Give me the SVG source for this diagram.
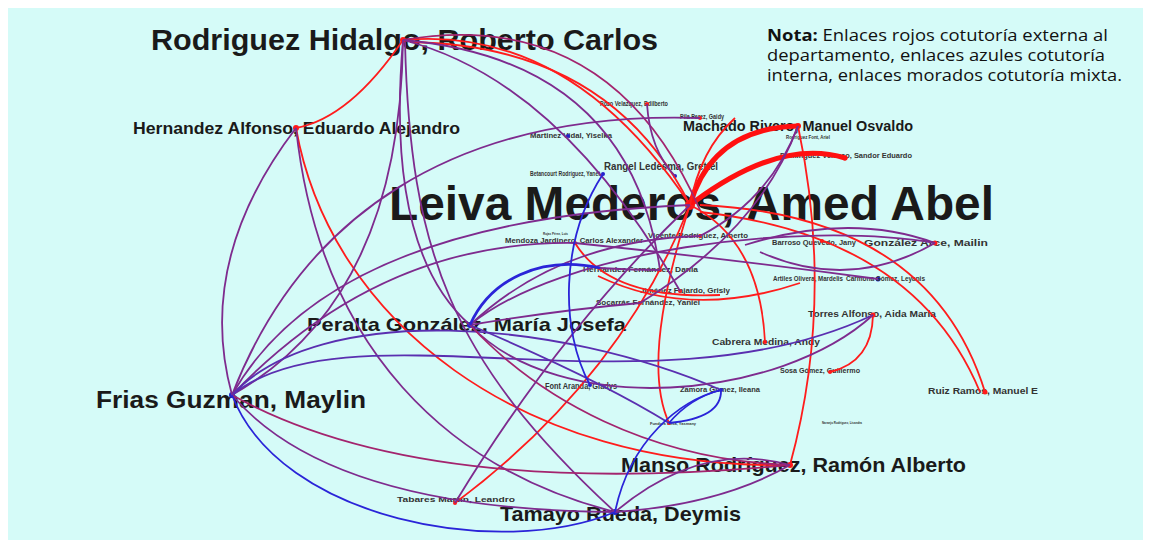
<svg xmlns="http://www.w3.org/2000/svg" width="1151" height="546" viewBox="0 0 1151 546">
<style>
.r{fill:none;stroke:#ff1c1c;stroke-width:1.8}
.rt{fill:none;stroke:#ff1010;stroke-width:5;stroke-linecap:round}
.p{fill:none;stroke:#7e2b8e;stroke-width:1.8}
.pr{fill:none;stroke:#a3246e;stroke-width:1.8}
.pb{fill:none;stroke:#5a2fb0;stroke-width:1.8}
.b{fill:none;stroke:#2a24d8;stroke-width:1.8}
.bt{fill:none;stroke:#2a24d8;stroke-width:2.8}
.lg{font-family:"Liberation Sans",Arial,sans-serif;font-weight:bold;fill:#1a1a1a}
.sm{font-family:"Liberation Sans",Arial,sans-serif;font-weight:bold;fill:#333}
.dr{fill:#ff1a1a}
.db{fill:#2222cc}
.note{font-family:"Open Sans","Noto Sans",sans-serif;font-size:16px;fill:#111}
</style>
<rect x="0" y="0" width="1151" height="546" fill="#ffffff"/>
<rect x="8" y="8" width="1135" height="532" fill="#d5fbf8"/>

<g id="nodes">
<g id="n-rh"><text class="lg" x="151" y="50" font-size="29" textLength="507" lengthAdjust="spacingAndGlyphs">Rodriguez Hidalgo, Roberto Carlos</text><circle class="dr" cx="403" cy="40" r="3"/></g>
<g id="n-lm"><text class="lg" x="389" y="220" font-size="48" fill="#000" textLength="605" lengthAdjust="spacingAndGlyphs">Leiva Mederos, Amed Abel</text><circle class="dr" cx="690" cy="205" r="5"/></g>
<g id="n-ha"><text class="lg" x="133" y="134" font-size="16" textLength="327" lengthAdjust="spacingAndGlyphs">Hernandez Alfonso, Eduardo Alejandro</text><circle class="dr" cx="296" cy="128" r="3"/></g>
<g id="n-mr"><text class="lg" x="683" y="131" font-size="14" textLength="230" lengthAdjust="spacingAndGlyphs">Machado Rivero, Manuel Osvaldo</text><circle class="dr" cx="798" cy="126" r="3"/></g>
<g id="n-pg"><text class="lg" x="307" y="331" font-size="19" textLength="319" lengthAdjust="spacingAndGlyphs">Peralta González, María Josefa</text><circle class="db" cx="470" cy="325" r="3"/></g>
<g id="n-fg"><text class="lg" x="96" y="408" font-size="23" textLength="270" lengthAdjust="spacingAndGlyphs">Frias Guzman, Maylin</text><circle class="db" cx="232" cy="395" r="3"/></g>
<g id="n-mrd"><text class="lg" x="621" y="472" font-size="20" textLength="345" lengthAdjust="spacingAndGlyphs">Manso Rodríguez, Ramón Alberto</text><circle class="dr" cx="790" cy="465" r="3"/></g>
<g id="n-tr"><text class="lg" x="500" y="521" font-size="21" textLength="241" lengthAdjust="spacingAndGlyphs">Tamayo Rueda, Deymis</text><circle class="db" cx="615" cy="512" r="3"/></g>
<g id="n-pv"><text class="sm" x="600" y="106" font-size="7" textLength="68" lengthAdjust="spacingAndGlyphs">Pozo Velazquez, Edilberto</text><circle class="dr" cx="647" cy="104" r="2"/></g>
<g id="n-pp"><text class="sm" x="680" y="119" font-size="7" textLength="44" lengthAdjust="spacingAndGlyphs">Pila Perez, Gaidy</text><circle class="dr" cx="700" cy="118" r="2"/></g>
<g id="n-mv"><text class="sm" x="530" y="138" font-size="7" textLength="82" lengthAdjust="spacingAndGlyphs">Martinez Vidal, Yiselka</text><circle class="db" cx="568" cy="136" r="2"/></g>
<g id="n-br"><text class="sm" x="530" y="176" font-size="7" textLength="70" lengthAdjust="spacingAndGlyphs">Betancourt Rodríguez, Yanet</text><circle class="db" cx="603" cy="174" r="2"/></g>
<g id="n-rl"><text class="sm" x="604" y="170" font-size="10" textLength="114" lengthAdjust="spacingAndGlyphs">Rangel Ledesma, Grettel</text><circle class="db" cx="675" cy="176" r="2"/></g>
<g id="n-rf"><text class="sm" x="786" y="139" font-size="5" textLength="44" lengthAdjust="spacingAndGlyphs">Rodriguez Font, Ariel</text></g>
<g id="n-dv"><text class="sm" x="780" y="158" font-size="7" textLength="132" lengthAdjust="spacingAndGlyphs">Dominguez Velazco, Sandor Eduardo</text><circle class="dr" cx="845" cy="158" r="2.5"/></g>
<g id="n-mj"><text class="sm" x="505" y="243" font-size="7" textLength="138" lengthAdjust="spacingAndGlyphs">Mendoza Jardinero, Carlos Alexander</text><circle class="dr" cx="575" cy="243" r="2"/></g>
<g id="n-rp"><text class="sm" x="543" y="235" font-size="4" textLength="25" lengthAdjust="spacingAndGlyphs">Rojas Pérez, Luis</text></g>
<g id="n-vr"><text class="sm" x="648" y="238" font-size="7" textLength="100" lengthAdjust="spacingAndGlyphs">Vicente Rodríguez, Alberto</text><circle class="dr" cx="700" cy="236" r="2"/></g>
<g id="n-bq"><text class="sm" x="772" y="245" font-size="7" textLength="84" lengthAdjust="spacingAndGlyphs">Barroso Quevedo, Jany</text><circle class="dr" cx="822" cy="241" r="2"/></g>
<g id="n-ga"><text class="sm" x="864" y="246" font-size="9" textLength="124" lengthAdjust="spacingAndGlyphs">González Arce, Mailin</text><circle class="dr" cx="935" cy="243" r="2.5"/></g>
<g id="n-hd"><text class="sm" x="583" y="272" font-size="7" textLength="115" lengthAdjust="spacingAndGlyphs">Hernández Fernández, Dania</text><circle class="dr" cx="660" cy="270" r="2"/></g>
<g id="n-ao"><text class="sm" x="773" y="281" font-size="7" textLength="70" lengthAdjust="spacingAndGlyphs">Artiles Olivera, Mardelis</text><circle class="db" cx="878" cy="279" r="2.5"/></g>
<g id="n-cg"><text class="sm" x="846" y="281" font-size="7" textLength="79" lengthAdjust="spacingAndGlyphs">Carmona Gómez, Leyanis</text></g>
<g id="n-jf"><text class="sm" x="640" y="293" font-size="7" textLength="90" lengthAdjust="spacingAndGlyphs">Jiménez Fajardo, Grisly</text><circle class="dr" cx="680" cy="291" r="2"/></g>
<g id="n-sf"><text class="sm" x="596" y="305" font-size="7" textLength="104" lengthAdjust="spacingAndGlyphs">Socarrás Fernández, Yaniel</text><circle class="dr" cx="640" cy="303" r="2"/></g>
<g id="n-ta"><text class="sm" x="808" y="317" font-size="9" textLength="128" lengthAdjust="spacingAndGlyphs">Torres Alfonso, Aida Maria</text><circle class="dr" cx="873" cy="315" r="2.5"/></g>
<g id="n-cm"><text class="sm" x="712" y="345" font-size="9" textLength="108" lengthAdjust="spacingAndGlyphs">Cabrera Medina, Andy</text><circle class="dr" cx="765" cy="342" r="2"/></g>
<g id="n-sg"><text class="sm" x="780" y="373" font-size="7" textLength="80" lengthAdjust="spacingAndGlyphs">Sosa Gómez, Guillermo</text><circle class="dr" cx="830" cy="372" r="2"/></g>
<g id="n-fa"><text class="sm" x="545" y="389" font-size="9" textLength="72" lengthAdjust="spacingAndGlyphs">Font Aranda, Gladys</text><circle class="db" cx="590" cy="385" r="2"/></g>
<g id="n-zg"><text class="sm" x="680" y="392" font-size="7" textLength="80" lengthAdjust="spacingAndGlyphs">Zamora Gómez, Ileana</text><circle class="db" cx="721" cy="390" r="2"/></g>
<g id="n-fm"><text class="sm" x="650" y="425" font-size="4" textLength="46" lengthAdjust="spacingAndGlyphs">Fundora Mesa, Yasmany</text><circle class="dr" cx="669" cy="423" r="2"/></g>
<g id="n-nr"><text class="sm" x="822" y="424" font-size="4" textLength="40" lengthAdjust="spacingAndGlyphs">Naranjo Rodríguez, Lisandra</text></g>
<g id="n-rr"><text class="sm" x="928" y="394" font-size="9" textLength="110" lengthAdjust="spacingAndGlyphs">Ruiz Ramos, Manuel E</text><circle class="dr" cx="985" cy="392" r="2.5"/></g>
<g id="n-tm"><text class="sm" x="397" y="502" font-size="8" textLength="118" lengthAdjust="spacingAndGlyphs">Tabares Martín, Leandro</text><circle class="dr" cx="455" cy="503" r="2"/></g>
</g>

<g id="connectors">
<path class="r" d="M403,40 Q350,118 296,128"/>
<path class="r" d="M403,40 Q570,25 690,205"/>
<path class="r" d="M410,42 Q610,45 690,205"/>
<path class="r" d="M798,126 Q835,300 790,465"/>
<path class="r" d="M296,128 C330,320 520,470 790,465"/>
<path class="rt" d="M690,205 Q712,128 798,126"/>
<path class="rt" d="M694,202 Q780,138 845,158" stroke-width="4"/>
<path class="r" d="M700,205 Q930,215 985,392"/>
<path class="r" d="M700,212 Q915,235 980,392"/>
<path class="r" d="M873,315 Q872,362 830,372"/>
<path class="r" d="M765,342 Q760,240 690,205"/>
<path class="r" d="M575,243 Q610,300 720,295"/>
<path class="r" d="M598,276 Q690,320 800,283"/>
<path class="r" d="M735,118 Q700,150 690,205"/>
<path class="r" d="M690,205 Q620,380 455,503"/>
<path class="r" d="M690,205 Q640,360 669,423"/>

<path class="p" d="M403,40 Q400,300 232,395"/>
<path class="p" d="M403,40 Q385,250 470,325"/>
<path class="p" d="M405,42 C410,250 450,360 615,512"/>
<path class="pr" d="M403,40 Q610,5 700,210"/>
<path class="p" d="M403,40 Q630,60 660,270"/>
<path class="p" d="M403,40 Q560,80 680,291"/>
<path class="p" d="M296,128 Q195,260 232,395"/>
<path class="p" d="M296,128 C320,350 450,470 615,512"/>
<path class="p" d="M232,395 C300,220 450,110 700,118"/>
<path class="p" d="M232,395 Q330,220 690,205"/>
<path class="p" d="M232,395 Q380,240 575,243"/>
<path class="pb" d="M232,395 C350,300 650,420 873,315"/>
<path class="pb" d="M232,395 C320,300 560,320 721,390"/>
<path class="p" d="M232,395 Q330,510 615,512"/>
<path class="pr" d="M232,395 Q420,500 790,465"/>
<path class="p" d="M470,325 C560,420 780,400 873,315"/>
<path class="p" d="M470,325 C560,250 800,220 935,243"/>
<path class="p" d="M745,245 Q850,212 935,243"/>
<path class="p" d="M935,243 Q850,292 760,252"/>
<path class="p" d="M470,325 Q560,240 700,236"/>
<path class="pr" d="M470,325 C540,400 650,460 790,465"/>
<path class="pb" d="M470,325 Q600,380 669,423"/>
<path class="p" d="M690,205 Q560,330 455,503"/>
<path class="p" d="M575,243 Q720,258 878,279"/>
<path class="p" d="M615,512 Q700,440 790,465"/>
<path class="p" d="M615,512 Q720,505 790,465"/>
<path class="p" d="M647,104 Q650,150 675,176"/>
<path class="p" d="M798,126 Q770,200 700,236"/>
<path class="p" d="M798,126 Q760,230 640,303"/>
<path class="p" d="M470,325 Q560,310 640,303"/>
<path class="p" d="M600,268 Q630,270 660,270"/>

<path class="b" d="M603,174 C560,240 560,330 590,385"/>
<path class="bt" d="M470,325 C490,280 540,255 600,268"/>
<path class="b" d="M232,395 C280,520 500,560 615,512"/>
<path class="b" d="M615,512 C630,440 680,400 721,390"/>
<path class="b" d="M669,423 Q722,418 721,390"/>
<path class="b" d="M669,423 Q690,398 721,390"/>
</g>

<g id="note">
<text class="note" x="767" y="41" textLength="341" lengthAdjust="spacingAndGlyphs"><tspan font-weight="bold">Nota:</tspan> Enlaces rojos cotutoría externa al</text>
<text class="note" x="767" y="61" textLength="338" lengthAdjust="spacingAndGlyphs">departamento, enlaces azules cotutoría</text>
<text class="note" x="767" y="81" textLength="355" lengthAdjust="spacingAndGlyphs">interna, enlaces morados cotutoría mixta.</text>
</g>
</svg>
